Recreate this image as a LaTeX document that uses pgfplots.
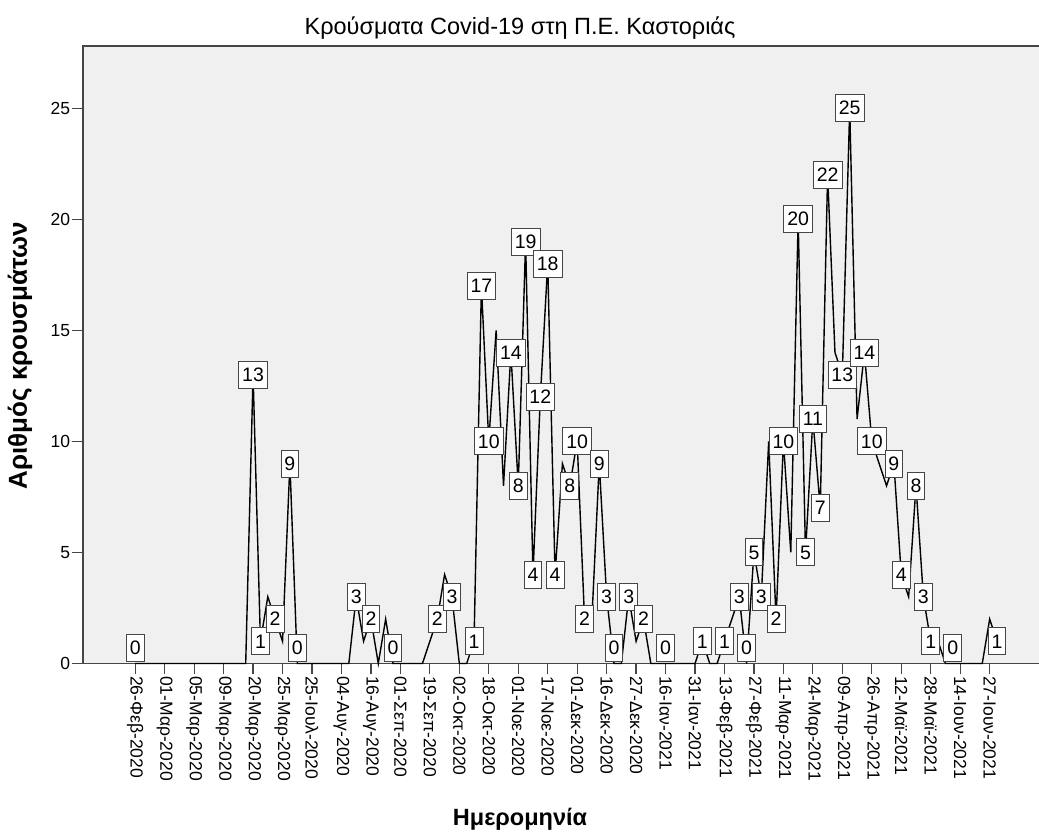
\documentclass[border=0pt]{standalone}
\usepackage{fontspec}
\setmainfont{Liberation Sans}
\usepackage{pgfplots}
\pgfplotsset{compat=1.18}
\definecolor{bggray}{RGB}{240,240,240}
\definecolor{framegray}{RGB}{70,70,70}
\begin{document}
\begin{tikzpicture}[x=1pt,y=1pt]
\useasboundingbox (0,0) rectangle (1039,834);
\begin{axis}[
  at={(82.7pt,170.5pt)}, anchor=south west,
  width=956.3pt, height=617.5pt, scale only axis,
  xmin=-7.13, xmax=122.7, ymin=0, ymax=27.8,
  clip=false,
  axis line style={draw=none},
  axis background/.style={fill=bggray},
  xtick={0,4,...,116},
  xticklabels={26-Φεβ-2020,01-Μαρ-2020,05-Μαρ-2020,09-Μαρ-2020,20-Μαρ-2020,25-Μαρ-2020,25-Ιουλ-2020,04-Αυγ-2020,16-Αυγ-2020,01-Σεπ-2020,19-Σεπ-2020,02-Οκτ-2020,18-Οκτ-2020,01-Νοε-2020,17-Νοε-2020,01-Δεκ-2020,16-Δεκ-2020,27-Δεκ-2020,16-Ιαν-2021,31-Ιαν-2021,13-Φεβ-2021,27-Φεβ-2021,11-Μαρ-2021,24-Μαρ-2021,09-Απρ-2021,26-Απρ-2021,12-Μαϊ-2021,28-Μαϊ-2021,14-Ιουν-2021,27-Ιουν-2021},
  ytick={0,5,...,25},
  xtick pos=bottom, ytick pos=left,
  tick align=outside,
  major tick length=11pt,
  tick style={framegray, line width=1.2pt},
  /pgf/number format/assume math mode=true,
  xticklabel style={rotate=-90, anchor=west, font=\fontsize{17.5}{20}\selectfont, inner sep=1.5pt},
  yticklabel style={font=\fontsize{17.5}{20}\selectfont, inner sep=1.5pt},
]
\draw[framegray, line width=1.6pt] (rel axis cs:1,1) -- (rel axis cs:0,1) -- (rel axis cs:0,0) -- (rel axis cs:1,0);
\addplot[black, line width=1.4pt, mark=none] coordinates {
(0,0)(1,0)(2,0)(3,0)(4,0)(5,0)(6,0)(7,0)(8,0)(9,0)(10,0)(11,0)(12,0)(13,0)(14,0)(15,0)
(16,13)(17,1)(18,3)(19,2)(20,1)(21,9)(22,0)(23,0)(24,0)(25,0)(26,0)(27,0)(28,0)(29,0)
(30,3)(31,1)(32,2)(33,0)(34,2)(35,0)(36,0)(37,0)(38,0)(39,0)
(40,1)(41,2)(42,4)(43,3)(44,0)(45,0)(46,1)(47,17)(48,10)(49,15)
(50,8)(51,14)(52,8)(53,19)(54,4)(55,12)(56,18)(57,4)(58,9)(59,8)
(60,10)(61,2)(62,2)(63,9)(64,3)(65,0)(66,0)(67,3)(68,1)(69,2)
(70,0)(71,0)(72,0)(73,0)(74,0)(75,0)(76,0)(77,1)(78,0)(79,0)
(80,1)(81,2)(82,3)(83,0)(84,5)(85,3)(86,10)(87,2)(88,10)(89,5)
(90,20)(91,5)(92,11)(93,7)(94,22)(95,14)(96,13)(97,25)(98,11)(99,14)
(100,10)(101,9)(102,8)(103,9)(104,4)(105,3)(106,8)(107,3)(108,1)(109,1)
(110,0)(111,0)(112,0)(113,0)(114,0)(115,0)(116,2)(117,1)
};
\addplot[draw=none, mark=none, point meta=explicit symbolic,
  nodes near coords, nodes near coords align=center,
  every node near coord/.style={draw=framegray, line width=0.9pt, fill=white, inner xsep=3.5pt, inner ysep=0pt, minimum height=27pt, text height=13.5pt, text depth=0pt, font=\fontsize{19.5}{22}\selectfont, anchor=center}]
table[meta=v] {
x y v
0 0.72 0
16 13 13
17 1 1
19 2 2
21 9 9
22 0.72 0
30 3 3
32 2 2
35 0.72 0
41 2 2
43 3 3
46 1 1
47 17 17
48 10 10
51 14 14
52 8 8
53 19 19
54 4 4
55 12 12
56 18 18
57 4 4
59 8 8
60 10 10
61 2 2
63 9 9
64 3 3
65 0.72 0
67 3 3
69 2 2
72 0.72 0
77 1 1
80 1 1
82 3 3
83 0.72 0
84 5 5
85 3 3
87 2 2
88 10 10
90 20 20
91 5 5
92 11 11
93 7 7
94 22 22
96 13 13
97 25 25
99 14 14
100 10 10
103 9 9
104 4 4
106 8 8
107 3 3
108 1 1
111 0.72 0
117 1 1
};
\end{axis}
\node[font=\fontsize{23.5}{27}\selectfont] at (520,806) {Κρούσματα Covid-19 στη Π.Ε. Καστοριάς};
\node[font=\bfseries\fontsize{23.5}{27}\selectfont] at (520,15) {Ημερομηνία};
\node[font=\bfseries\fontsize{26}{30}\selectfont, rotate=90] at (20,478) {Αριθμός κρουσμάτων};
\end{tikzpicture}
\end{document}
